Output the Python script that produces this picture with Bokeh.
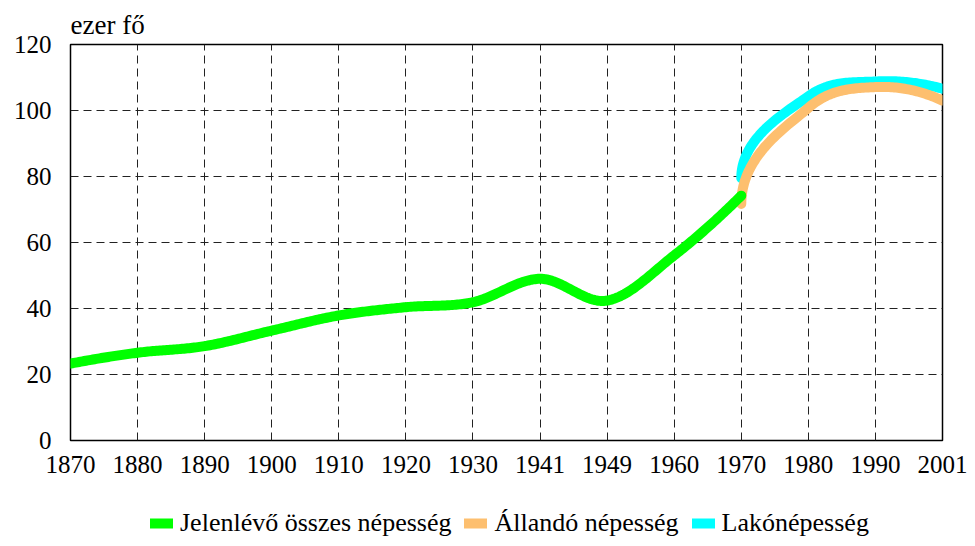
import numpy as np
from bokeh.plotting import figure
from bokeh.layouts import column
from bokeh.models import Range1d, FixedTicker, Legend, LegendItem, Title
from bokeh.embed import file_html
from bokeh.resources import INLINE

# ---- data (ezer fő) ----
categories = ["1870", "1880", "1890", "1900", "1910", "1920", "1930",
              "1941", "1949", "1960", "1970", "1980", "1990", "2001"]
jelenlevo = [23.3, 26.6, 28.6, 33.3, 37.9, 40.4, 41.9, 49.0, 42.4, 56.1, 74.2]
allando_cats = ["1970", "1980", "1990", "2001"]
allando = [71.7, 100.8, 107.1, 103.0]
lako_cats = ["1970", "1980", "1990", "2001"]
lako = [79.5, 104.3, 108.8, 106.6]
y_ticks = [0, 20, 40, 60, 80, 100, 120]
series_names = ["Jelenlévő összes népesség", "Állandó népesség", "Lakónépesség"]
series_colors = ["#00FF00", "#FDBF6F", "#00FFFF"]

FONT = "Liberation Serif"


def smooth(xs, ys, n=40):
    """Smoothed line through the points (cubic Bezier segments).
    A series that begins after a blank category starts vertically, as the
    spreadsheet's smoothed lines do."""
    pts = np.column_stack([np.asarray(xs, float), np.asarray(ys, float)])
    m = len(pts)
    tang = np.zeros_like(pts)
    for i in range(1, m - 1):
        tang[i] = (pts[i + 1] - pts[i - 1]) / 2.0
    tang[0] = 2 * (pts[1] - pts[0]) - tang[1]
    tang[-1] = 2 * (pts[-1] - pts[-2]) - tang[-2]
    late_start = pts[0, 0] > 0
    out = []
    t = np.linspace(0, 1, n)[:, None]
    for i in range(m - 1):
        p1, p2 = pts[i], pts[i + 1]
        c2 = p2 - tang[i + 1] / 3.0
        if i == 0 and late_start:
            c1 = np.array([p1[0], p1[1] + (p2[1] - p1[1]) / 2.0])
        else:
            c1 = p1 + tang[i] / 3.0
        seg = ((1 - t) ** 3) * p1 + 3 * ((1 - t) ** 2) * t * c1 + 3 * (1 - t) * t ** 2 * c2 + t ** 3 * p2
        out.append(seg if i == 0 else seg[1:])
    a = np.vstack(out)
    return a[:, 0], a[:, 1]


idx = {c: i for i, c in enumerate(categories)}

W = 967
p = figure(width=W, height=505, output_backend="svg", toolbar_location=None,
           x_range=Range1d(0, len(categories) - 1), y_range=Range1d(0, 120),
           min_border_left=70, min_border_right=25, min_border_top=44, min_border_bottom=65)

p.outline_line_color = "black"
p.outline_line_width = 1.5
p.background_fill_color = "white"
p.border_fill_color = "white"

# unit label above the plot
t = Title(text="ezer fő", align="left", text_font=FONT, text_font_size="27px",
          text_font_style="normal", text_color="black", standoff=9, offset=0)
p.add_layout(t, "above")

# axes
p.xaxis.ticker = FixedTicker(ticks=list(range(len(categories))))
p.xaxis.major_label_overrides = {i: c for i, c in enumerate(categories)}
p.yaxis.ticker = FixedTicker(ticks=y_ticks)
for ax in (p.xaxis[0], p.yaxis[0]):
    ax.axis_line_color = None
    ax.major_tick_line_color = None
    ax.minor_tick_line_color = None
    ax.major_tick_in = 0
    ax.major_tick_out = 0
    ax.major_label_text_font = FONT
    ax.major_label_text_font_size = "25px"
    ax.major_label_text_color = "black"
p.xaxis.major_label_standoff = 15
p.yaxis.major_label_standoff = 19

# grid
for g in (p.xgrid[0], p.ygrid[0]):
    g.grid_line_color = "#222222"
    g.grid_line_width = 1
    g.grid_line_dash = "8 5"

LW = 10
xc, yc = smooth([idx[c] for c in lako_cats], lako)
p.line(xc, yc, line_color=series_colors[2], line_width=LW, line_cap="round", line_join="round")
xo, yo = smooth([idx[c] for c in allando_cats], allando)
p.line(xo, yo, line_color=series_colors[1], line_width=LW, line_cap="round", line_join="round")
xg, yg = smooth(list(range(len(jelenlevo))), jelenlevo)
p.line(xg, yg, line_color=series_colors[0], line_width=LW, line_cap="round", line_join="round")

# legend strip below the chart (swatch renderers lie outside the visible range)
lg = figure(width=W, height=33, output_backend="svg", toolbar_location=None,
            x_range=Range1d(0, 1), y_range=Range1d(0, 1),
            x_axis_type=None, y_axis_type=None,
            min_border_left=0, min_border_right=0, min_border_top=0, min_border_bottom=0)
lg.outline_line_color = None
lg.grid.visible = False
items = []
for name, col in zip(series_names, series_colors):
    r = lg.line([-3, -2], [-3, -2], line_color=col, line_width=LW, line_cap="round")
    items.append(LegendItem(label=name, renderers=[r]))
legend = Legend(items=items, orientation="horizontal", location=(80, 0),
                label_text_font=FONT, label_text_font_size="26px", label_text_color="black",
                glyph_width=23, glyph_height=26, label_standoff=7, spacing=13,
                padding=0, margin=0, border_line_color=None, background_fill_alpha=0)
lg.add_layout(legend)

layout = column(p, lg, spacing=0)
open("out.html", "w").write(file_html(layout, INLINE))
